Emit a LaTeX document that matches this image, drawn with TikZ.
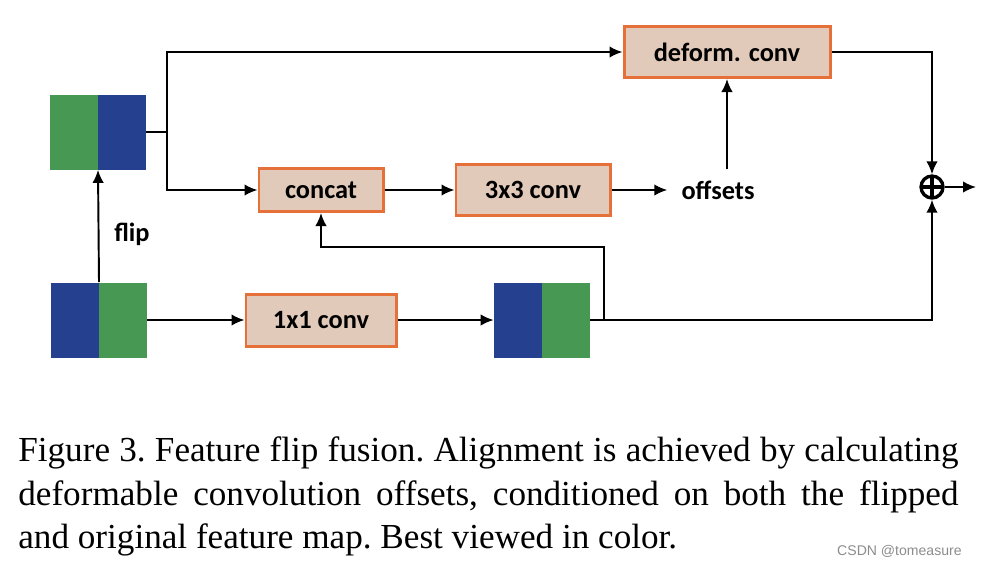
\documentclass[tikz,border=0pt]{standalone}
\usepackage{fontspec}
\setmainfont{Liberation Serif}
\newfontfamily\diagfont{Carlito}
\newfontfamily\markfont{Liberation Sans}
\usetikzlibrary{arrows.meta, positioning, calc}

\begin{document}
\begin{tikzpicture}[
    x=0.2mm, y=-0.2mm,
    labelfont/.style={font=\diagfont\bfseries\fontsize{15}{18}\selectfont},
    convbox/.style={labelfont, draw=boxorange, fill=boxfill, line width=1.7pt, inner sep=0pt},
    arr/.style={-{Latex[length=2.6mm, width=2.3mm]}, line width=1.1pt},
    link/.style={line width=1.1pt},
    fmapgb/.style={minimum width=19.2mm, minimum height=15mm, inner sep=0pt,
        path picture={
            \fill[mapgreen] (path picture bounding box.south west) rectangle (path picture bounding box.north);
            \fill[mapblue] (path picture bounding box.south) rectangle (path picture bounding box.north east);}},
    fmapbg/.style={minimum width=19.2mm, minimum height=15mm, inner sep=0pt,
        path picture={
            \fill[mapblue] (path picture bounding box.south west) rectangle (path picture bounding box.north);
            \fill[mapgreen] (path picture bounding box.south) rectangle (path picture bounding box.north east);}},
]

% ===== Colors =====
\definecolor{mapblue}{RGB}{36,64,143}
\definecolor{mapgreen}{RGB}{70,152,83}
\definecolor{boxorange}{RGB}{229,112,57}
\definecolor{boxfill}{RGB}{226,202,186}

% picture frame, in pixels of the figure (y grows downward)
\useasboundingbox (0,0) rectangle (990,566);

% ===== Feature maps =====
\node[fmapgb] (flipped) at (98,132) {};
\node[fmapbg] (orig) at (99,320) {};
\node[fmapbg] (reduced) at (542,320) {};

% ===== Conv boxes =====
\node[convbox, minimum width=41.2mm, minimum height=10.2mm] (deform) at (727,52) {deform. conv};
\node[convbox, minimum width=24.8mm, minimum height=8.6mm] (concat) at (321,190) {concat};
\node[convbox, minimum width=30.8mm, minimum height=10.2mm] (conv3) at (533,190) {3x3 conv};
\node[convbox, minimum width=30mm, minimum height=10.4mm] (conv1) at (321,320) {1x1 conv};

% ===== Labels =====
\node[labelfont] (offsets) at (718,190) {offsets};
\node[labelfont] (fliplabel) at (132,234) {flip};

% sum
\node[circle, draw, line width=1.9pt, minimum size=4.4mm, inner sep=0pt,
    path picture={
        \draw[line width=1.9pt] (path picture bounding box.north) -- (path picture bounding box.south);
        \draw[line width=1.9pt] (path picture bounding box.west) -- (path picture bounding box.east);}]
    (sum) at (932,187) {};

% ===== Junctions =====
\coordinate (split) at (167,132);
\coordinate (tap) at (604,320);
\coordinate (back) at (604,247);
\coordinate (out) at (976,187);

% ===== Connectors =====
\draw[arr] (orig.north) -- (flipped.south);
\draw[link] (flipped.east) -- (split);
\draw[arr] (split) |- (deform.west);
\draw[arr] (split) |- (concat.west);
\draw[arr] (concat) -- (conv3);
\draw[arr, shorten >=1.6mm] (conv3.east) -- (offsets.west);
\draw[arr, shorten <=1mm] (deform.south |- offsets.north) -- (deform.south);
\draw[arr] (deform.east) -| (sum.north);
\draw[arr] (orig.east) -- (conv1.west);
\draw[arr] (conv1.east) -- (reduced.west);
\draw[arr] (reduced.east) -| (sum.south);
\draw[arr] (tap) -- (back) -| (concat.south);
\draw[arr] (sum.east) -- (out);

% ===== Caption =====
\node[anchor=north west, inner sep=0pt, text width=535pt, align=justify,
    font=\frenchspacing\fontsize{20}{25}\selectfont] (caption) at (18,436)
    {Figure 3. Feature flip fusion. Alignment is achieved by calculating\linebreak
     deformable convolution offsets, conditioned on both the flipped\linebreak
     and original feature map. Best viewed in color.};

\node[anchor=base east, inner sep=0pt, text=black!45, font=\markfont\fontsize{8}{10}\selectfont]
    (mark) at (962,555) {CSDN @tomeasure};

\end{tikzpicture}
\end{document}
